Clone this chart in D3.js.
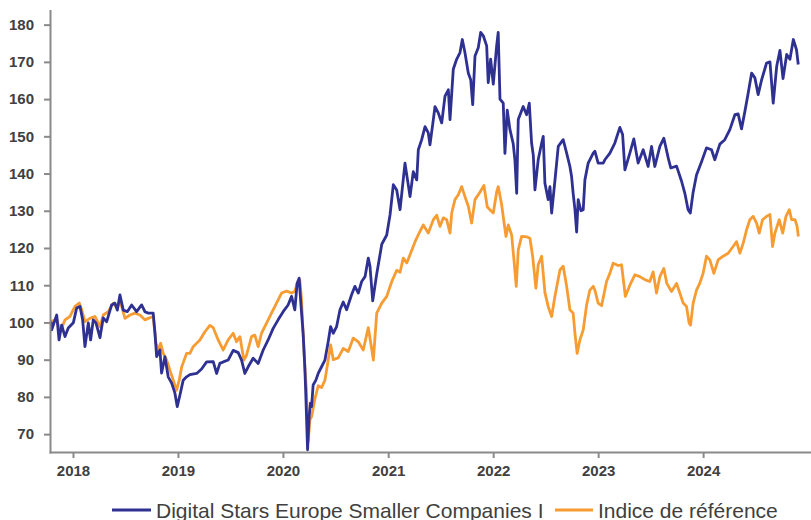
<!DOCTYPE html>
<html>
<head>
<meta charset="utf-8">
<script src="https://cdn.jsdelivr.net/npm/d3@7"></script>
<style>
  body { margin: 0; background: #fff; }
  svg { display: block; font-family: "Liberation Sans", Arial, sans-serif; }
  .axis path, .axis line { stroke: #8a8a8a; stroke-width: 2px; }
  .axis text { font-size: 15px; font-weight: bold; fill: #404040; }
  .legend text { font-size: 21px; fill: #404040; }
</style>
</head>
<body>
<div id="chart"></div>
<script>
// Time is stored as a fractional year, value is the rebased performance (base 100)
const fund = [
  [2017.791,100.2],[2017.797,98],[2017.845,102],[2017.867,95.3],[2017.892,99.3],[2017.924,96.2],[2017.955,98.5],
  [2018.003,99.9],[2018.035,103.9],[2018.067,104.3],[2018.092,100.7],[2018.114,93.5],[2018.146,99.9],[2018.168,95.3],
  [2018.193,100.7],[2018.219,99.9],[2018.257,95.9],[2018.288,101.2],[2018.321,100.2],[2018.368,104.7],[2018.400,105.2],
  [2018.422,103.3],[2018.447,107.4],[2018.479,103.3],[2018.517,102.9],[2018.559,104.7],[2018.606,102.9],[2018.654,104.7],
  [2018.685,102.9],[2018.717,102.5],[2018.764,102.5],[2018.781,97.2],[2018.797,90.8],[2018.828,92.6],[2018.844,86.4],
  [2018.876,90.8],[2018.907,85.4],[2018.940,83.7],[2018.971,81],[2018.993,77.4],[2019.019,80.5],[2019.050,84.5],
  [2019.082,85.4],[2019.114,86],[2019.178,86.3],[2019.225,87.5],[2019.273,89.4],[2019.336,89.5],[2019.368,86.3],
  [2019.399,89],[2019.431,89.4],[2019.478,89.9],[2019.526,92.5],[2019.574,91.9],[2019.606,89.9],[2019.637,86.3],
  [2019.669,88.1],[2019.716,90.4],[2019.764,89],[2019.812,92.6],[2019.859,95.3],[2019.907,98.4],[2019.954,100.7],
  [2020.002,102.9],[2020.049,104.7],[2020.082,107],[2020.113,103.4],[2020.135,110.5],[2020.154,111.9],[2020.168,106],
  [2020.192,97],[2020.208,88],[2020.218,80],[2020.234,65.8],[2020.249,74.7],[2020.261,78.3],[2020.272,77.4],
  [2020.287,83.2],[2020.313,84.5],[2020.335,86.3],[2020.367,88.1],[2020.399,89.9],[2020.430,94.8],[2020.453,98.9],
  [2020.478,97.1],[2020.510,98.9],[2020.542,103.4],[2020.573,105.5],[2020.605,103.4],[2020.653,107.5],[2020.684,109.7],
  [2020.716,107.9],[2020.748,111],[2020.780,112.3],[2020.811,117.3],[2020.827,115.1],[2020.853,105.8],[2020.891,113],
  [2020.939,121],[2020.986,123.5],[2021.018,129],[2021.049,137],[2021.081,135.6],[2021.113,130.3],[2021.160,142.8],
  [2021.208,133.8],[2021.239,140.5],[2021.272,138.3],[2021.287,146.4],[2021.319,149.1],[2021.351,152.6],[2021.382,150.9],
  [2021.398,147.7],[2021.430,154.5],[2021.446,158],[2021.477,156.3],[2021.510,153.6],[2021.541,160.8],[2021.573,162.5],
  [2021.589,154.5],[2021.620,168],[2021.652,170.7],[2021.684,172.5],[2021.706,176],[2021.731,172.5],[2021.763,167],
  [2021.786,165.2],[2021.805,158.5],[2021.827,171.6],[2021.858,173.8],[2021.881,177.9],[2021.906,177],[2021.938,174.3],
  [2021.953,164.4],[2021.976,170.7],[2022.001,164],[2022.033,174.3],[2022.048,177.9],[2022.065,160],[2022.096,158.9],
  [2022.112,145.4],[2022.134,157],[2022.160,151.8],[2022.191,148],[2022.207,143.7],[2022.224,134.7],[2022.239,154.5],
  [2022.286,158],[2022.319,155.8],[2022.344,158.9],[2022.366,148.2],[2022.382,145],[2022.398,135.6],[2022.429,143.7],
  [2022.462,148.2],[2022.477,150],[2022.493,137.4],[2022.524,133],[2022.541,136.5],[2022.557,129.4],[2022.588,138],
  [2022.620,147.3],[2022.667,149.1],[2022.700,145.5],[2022.731,141.9],[2022.747,139.2],[2022.762,134.7],[2022.779,130.3],
  [2022.795,124.3],[2022.810,133],[2022.836,130],[2022.858,130.3],[2022.874,138.3],[2022.905,142.8],[2022.921,143.7],
  [2022.953,145.5],[2022.969,146],[2023.000,142.8],[2023.048,142.8],[2023.064,143.7],[2023.112,145.5],[2023.159,148.2],
  [2023.207,152.4],[2023.233,150.5],[2023.255,141],[2023.302,145.5],[2023.340,149.3],[2023.381,142.8],[2023.429,146.4],
  [2023.476,141.9],[2023.509,147.3],[2023.540,141.9],[2023.588,147.3],[2023.626,149.5],[2023.669,144],[2023.692,141.5],
  [2023.747,142],[2023.794,138],[2023.826,134.7],[2023.857,130.3],[2023.878,129.4],[2023.905,135],[2023.937,139.6],
  [2023.985,143.2],[2024.032,146.9],[2024.080,146.4],[2024.111,143.7],[2024.159,147.9],[2024.206,149.1],[2024.254,151.8],
  [2024.302,155.8],[2024.333,156],[2024.365,152],[2024.397,156.7],[2024.428,161.6],[2024.461,167],[2024.492,165.7],
  [2024.523,161.2],[2024.556,165.2],[2024.603,169.7],[2024.635,170],[2024.666,158.9],[2024.699,168.8],[2024.730,173.1],
  [2024.759,165.5],[2024.794,172],[2024.825,170.7],[2024.857,176],[2024.887,173.3],[2024.904,169.3]
]

const benchmark = [
  [2017.791,100.2],[2017.845,101],[2017.876,97.5],[2017.924,100.7],[2017.971,101.6],[2018.019,104.3],[2018.060,105.2],
  [2018.083,103.4],[2018.114,100.2],[2018.162,101.1],[2018.209,101.6],[2018.257,98.9],[2018.288,102],[2018.336,102.9],
  [2018.384,105.2],[2018.422,103.8],[2018.447,106],[2018.495,101.1],[2018.543,102],[2018.590,102.5],[2018.638,102],
  [2018.685,100.7],[2018.717,101.1],[2018.764,101.6],[2018.790,94.4],[2018.812,92.6],[2018.835,94.4],[2018.860,91.7],
  [2018.892,89.9],[2018.923,87.2],[2018.955,84.5],[2018.987,81.8],[2019.012,84.5],[2019.035,88],[2019.082,91.7],
  [2019.114,91.7],[2019.145,93.5],[2019.209,95.3],[2019.257,97.5],[2019.304,99.2],[2019.336,98.6],[2019.383,95.3],
  [2019.431,92.6],[2019.478,95.3],[2019.526,97.1],[2019.558,94.8],[2019.590,96.2],[2019.628,89.9],[2019.653,91.2],
  [2019.701,96.2],[2019.732,96.6],[2019.764,93.5],[2019.796,97.1],[2019.844,99.8],[2019.891,102.5],[2019.939,105.2],
  [2019.987,107.9],[2020.034,108.4],[2020.082,107.9],[2020.113,108.4],[2020.135,110.5],[2020.161,111.4],[2020.177,106],
  [2020.192,97],[2020.208,88],[2020.223,82],[2020.240,68],[2020.256,73.8],[2020.272,74.7],[2020.304,79.5],
  [2020.335,83],[2020.367,82.5],[2020.399,84.5],[2020.430,89.9],[2020.453,94],[2020.478,90],[2020.525,90.5],
  [2020.573,93],[2020.621,92.2],[2020.668,95.8],[2020.716,94.8],[2020.763,92.6],[2020.811,98.6],[2020.837,94],
  [2020.859,89.9],[2020.891,102.5],[2020.939,105.2],[2020.986,107],[2021.034,111],[2021.081,114],[2021.113,113.5],
  [2021.144,117.3],[2021.177,116],[2021.208,118.2],[2021.256,121.7],[2021.303,124.5],[2021.335,126.2],[2021.382,124],
  [2021.430,127.6],[2021.462,128.8],[2021.493,125.8],[2021.525,128.1],[2021.557,127.6],[2021.589,124],[2021.605,129.4],
  [2021.636,133],[2021.668,134.3],[2021.700,136.5],[2021.731,133.8],[2021.763,131.2],[2021.795,126.7],[2021.827,133],
  [2021.874,135],[2021.912,136.8],[2021.944,131],[2021.969,130.3],[2022.001,129.4],[2022.033,135],[2022.048,136.5],
  [2022.081,131.6],[2022.103,127],[2022.122,123.1],[2022.144,126.2],[2022.176,123.5],[2022.198,116.8],[2022.220,109.7],
  [2022.239,119.5],[2022.271,123.1],[2022.319,123],[2022.350,122.6],[2022.376,117.8],[2022.407,109.2],[2022.429,115.5],
  [2022.462,117.8],[2022.493,108],[2022.524,104.3],[2022.557,101.6],[2022.588,107],[2022.636,114.1],[2022.667,115.1],
  [2022.700,109.7],[2022.731,103.4],[2022.762,102.5],[2022.779,97.1],[2022.800,91.7],[2022.826,95.3],[2022.858,98],
  [2022.890,104.7],[2022.921,108.7],[2022.953,109.7],[2022.969,108.7],[2023.000,105.2],[2023.033,104.5],[2023.080,111],
  [2023.112,113.2],[2023.143,115.9],[2023.191,115.3],[2023.223,115.5],[2023.259,107],[2023.302,110],[2023.350,112.8],
  [2023.397,112.3],[2023.445,111.5],[2023.492,111],[2023.524,113.6],[2023.556,107.9],[2023.588,112.3],[2023.626,114.5],
  [2023.654,110.5],[2023.699,108.3],[2023.747,110.5],[2023.778,107.9],[2023.810,105.2],[2023.842,104.3],[2023.867,99.8],
  [2023.880,99.3],[2023.905,105.2],[2023.937,108.7],[2023.968,110.5],[2024.000,113.2],[2024.032,117.8],[2024.064,116.8],
  [2024.102,113.2],[2024.143,116.8],[2024.190,117.8],[2024.238,118.6],[2024.285,120.4],[2024.318,121.7],[2024.349,118.6],
  [2024.381,121.3],[2024.413,124.9],[2024.444,127.6],[2024.476,128.5],[2024.508,126.7],[2024.533,124],[2024.565,127.6],
  [2024.603,128.5],[2024.635,129],[2024.660,120.4],[2024.682,124],[2024.723,127.6],[2024.756,124],[2024.787,128.5],
  [2024.819,130.3],[2024.841,127.6],[2024.873,127.6],[2024.893,125.8],[2024.905,123.1]
]

const seriesNames = ['Digital Stars Europe Smaller Companies I', 'Indice de référence']
const seriesColors = ['#2e3192', '#f79c32']
const yTicks = [70, 80, 90, 100, 110, 120, 130, 140, 150, 160, 170, 180]
const xTickYears = [2018, 2019, 2020, 2021, 2022, 2023, 2024]
const xDomain = [2017.781, 2025.025]
const yDomain = [65.2, 183.8]

const width = 811
const height = 520
const plotLeft = 50
const plotTop = 10.5
const plotBottom = 452

// fractional year -> Date
function toDate(t) {
  const y = Math.floor(t)
  const a = Date.UTC(y, 0, 1)
  const b = Date.UTC(y + 1, 0, 1)
  return new Date(a + (t - y) * (b - a))
}

const svg = d3.select('#chart').append('svg')
  .attr('width', width)
  .attr('height', height)

const x = d3.scaleUtc()
  .domain(xDomain.map(toDate))
  .range([plotLeft, width])

const y = d3.scaleLinear()
  .domain(yDomain)
  .range([plotBottom, plotTop])

const line = d3.line()
  .x(d => x(toDate(d[0])))
  .y(d => y(d[1]))

// benchmark first, fund drawn on top
svg.append('path')
  .datum(benchmark)
  .attr('fill', 'none')
  .attr('stroke', seriesColors[1])
  .attr('stroke-width', 2.8)
  .attr('stroke-linejoin', 'round')
  .attr('d', line)

svg.append('path')
  .datum(fund)
  .attr('fill', 'none')
  .attr('stroke', seriesColors[0])
  .attr('stroke-width', 2.8)
  .attr('stroke-linejoin', 'round')
  .attr('d', line)

// axes
svg.append('g')
  .attr('class', 'axis')
  .attr('transform', `translate(0,${plotBottom})`)
  .call(d3.axisBottom(x)
    .tickValues(xTickYears.map(toDate))
    .tickFormat(d3.utcFormat('%Y'))
    .tickSize(6)
    .tickSizeOuter(0)
    .tickPadding(7))

svg.append('g')
  .attr('class', 'axis')
  .attr('transform', `translate(${plotLeft},0)`)
  .call(d3.axisLeft(y)
    .tickValues(yTicks)
    .tickSize(6)
    .tickSizeOuter(0)
    .tickPadding(10))

svg.selectAll('.axis .domain').attr('stroke-linecap', 'square')

// legend
const legend = svg.append('g').attr('class', 'legend')
const legendItems = [
  { x1: 112, x2: 151, tx: 156 },
  { x1: 555, x2: 593, tx: 598 },
]
legendItems.forEach((it, i) => {
  legend.append('line')
    .attr('x1', it.x1).attr('x2', it.x2)
    .attr('y1', 510).attr('y2', 510)
    .attr('stroke', seriesColors[i])
    .attr('stroke-width', 3)
  legend.append('text')
    .attr('x', it.tx)
    .attr('y', 517.5)
    .text(seriesNames[i])
})
</script>
</body>
</html>
